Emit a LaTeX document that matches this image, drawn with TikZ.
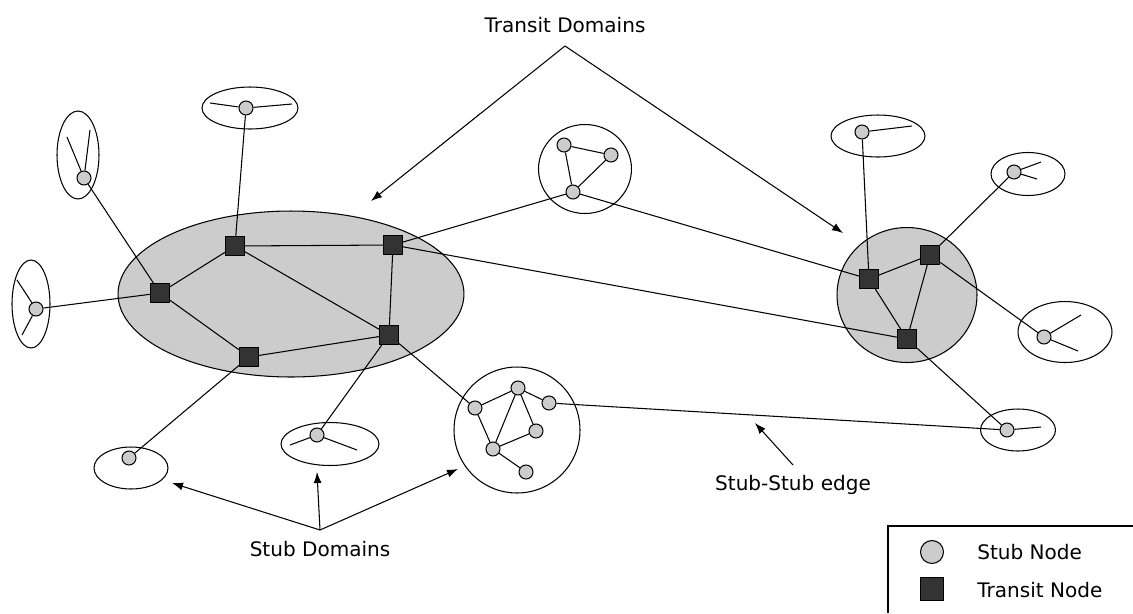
\documentclass[tikz,border=0pt]{standalone}
\usepackage{fontspec}
\setmainfont{DejaVu Sans}
\usetikzlibrary{arrows.meta,shapes.geometric}
\definecolor{stubgray}{HTML}{CCCCCC}
\definecolor{transitgray}{HTML}{333333}
\pgfdeclarelayer{back}
\pgfdeclarelayer{edges}
\pgfsetlayers{back,edges,main}
\begin{document}
\begin{tikzpicture}[x=0.02cm,y=-0.02cm,
  stub/.style={circle,draw,fill=stubgray,minimum size=0.28cm,inner sep=0pt,line width=0.6pt},
  transit/.style={rectangle,draw,fill=transitgray,minimum size=0.38cm,inner sep=0pt,line width=0.6pt},
  link/.style={line width=0.6pt},
  stubdom/.style={ellipse,draw,inner sep=0pt,line width=0.6pt},
  transdom/.style={ellipse,draw,fill=stubgray,inner sep=0pt,line width=0.6pt},
  tag/.style={font=\fontsize{11.4}{13.5}\selectfont,inner sep=0pt},
  pointer/.style={line width=0.6pt,-{Latex[length=0.22cm,width=0.16cm]}}
]
\useasboundingbox (0,0) rectangle (1133,613);

% transit domains
\begin{pgfonlayer}{back}
  \node[transdom,minimum width=6.92cm,minimum height=3.32cm] (TDL) at (291,294) {};
  \node[transdom,minimum width=2.80cm,minimum height=2.70cm] (TDR) at (907,295) {};
\end{pgfonlayer}

% stub domains
\node[stubdom,minimum width=0.84cm,minimum height=1.76cm] (DA) at (78,155) {};
\node[stubdom,minimum width=0.76cm,minimum height=1.76cm] (DB) at (31,304) {};
\node[stubdom,minimum width=1.92cm,minimum height=0.84cm] (DC) at (250,108) {};
\node[stubdom,minimum width=1.48cm,minimum height=0.84cm] (DD) at (131,468) {};
\node[stubdom,minimum width=1.96cm,minimum height=0.86cm] (DE) at (330,444) {};
\node[stubdom,minimum width=1.86cm,minimum height=1.78cm] (DT) at (585,169) {};
\node[stubdom,minimum width=2.52cm,minimum height=2.52cm] (DN) at (517,430) {};
\node[stubdom,minimum width=1.88cm,minimum height=0.84cm] (DF) at (878,136) {};
\node[stubdom,minimum width=1.48cm,minimum height=0.86cm] (DG) at (1028,174) {};
\node[stubdom,minimum width=1.88cm,minimum height=1.22cm] (DH) at (1065,332) {};
\node[stubdom,minimum width=1.50cm,minimum height=0.84cm] (DI) at (1018,430) {};

% transit nodes
\node[transit] (T1) at (160,293) {};
\node[transit] (T2) at (235,246) {};
\node[transit] (T3) at (393,245) {};
\node[transit] (T4) at (389,335) {};
\node[transit] (T5) at (249,357) {};
\node[transit] (R1) at (869,279) {};
\node[transit] (R2) at (930,255) {};
\node[transit] (R3) at (907,339) {};

% stub nodes
\node[stub] (sa) at (84,178) {};
\node[stub] (sb) at (36,309) {};
\node[stub] (sc) at (246,108) {};
\node[stub] (sd) at (129,458) {};
\node[stub] (se) at (317,435) {};
\node[stub] (p1) at (564,145) {};
\node[stub] (p2) at (611,155) {};
\node[stub] (p3) at (573,192) {};
\node[stub] (n1) at (475,408) {};
\node[stub] (n2) at (518,388) {};
\node[stub] (n3) at (549,403) {};
\node[stub] (n4) at (536,431) {};
\node[stub] (n5) at (493,449) {};
\node[stub] (n6) at (526,472) {};
\node[stub] (sf) at (862,132) {};
\node[stub] (sg) at (1014,172) {};
\node[stub] (sh) at (1044,337) {};
\node[stub] (si) at (1007,430) {};

% loose ends of stub links
\coordinate (a1) at (67,137);   \coordinate (a2) at (90,130);
\coordinate (b1) at (17,280);   \coordinate (b2) at (22,335);
\coordinate (c1) at (210,103);  \coordinate (c2) at (292,104);
\coordinate (e1) at (290,445);  \coordinate (e2) at (357,450);
\coordinate (f1) at (912,126);
\coordinate (g1) at (1041,162); \coordinate (g2) at (1037,179);
\coordinate (h1) at (1081,315); \coordinate (h2) at (1078,351);
\coordinate (i1) at (1041,427);

\begin{pgfonlayer}{edges}
  % transit-transit
  \draw[link] (T1) -- (T2);
  \draw[link] (T2) -- (T3);
  \draw[link] (T2) -- (T4);
  \draw[link] (T3) -- (T4);
  \draw[link] (T1) -- (T5);
  \draw[link] (T5) -- (T4);
  \draw[link] (T3) -- (R3);
  \draw[link] (R1) -- (R2);
  \draw[link] (R1) -- (R3);
  \draw[link] (R2) -- (R3);
  % transit-stub
  \draw[link] (T1) -- (sa);
  \draw[link] (T1) -- (sb);
  \draw[link] (T2) -- (sc);
  \draw[link] (T5) -- (sd);
  \draw[link] (T4) -- (se);
  \draw[link] (T4) -- (n1);
  \draw[link] (T3) -- (p3);
  \draw[link] (R1) -- (p3);
  \draw[link] (R1) -- (sf);
  \draw[link] (R2) -- (sg);
  \draw[link] (R2) -- (sh);
  \draw[link] (R3) -- (si);
  % stub-stub
  \draw[link] (si) -- (n3);
  \draw[link] (p1) -- (p2);
  \draw[link] (p1) -- (p3);
  \draw[link] (p2) -- (p3);
  \draw[link] (n1) -- (n2);
  \draw[link] (n2) -- (n3);
  \draw[link] (n1) -- (n5);
  \draw[link] (n2) -- (n5);
  \draw[link] (n2) -- (n4);
  \draw[link] (n4) -- (n5);
  \draw[link] (n5) -- (n6);
  % loose ends
  \draw[link] (sa) -- (a1);
  \draw[link] (sa) -- (a2);
  \draw[link] (sb) -- (b1);
  \draw[link] (sb) -- (b2);
  \draw[link] (sc) -- (c1);
  \draw[link] (sc) -- (c2);
  \draw[link] (se) -- (e1);
  \draw[link] (se) -- (e2);
  \draw[link] (sf) -- (f1);
  \draw[link] (sg) -- (g1);
  \draw[link] (sg) -- (g2);
  \draw[link] (sh) -- (h1);
  \draw[link] (sh) -- (h2);
  \draw[link] (si) -- (i1);
\end{pgfonlayer}

% annotations
\node[tag] (ltd) at (565,25) {Transit Domains};
\coordinate (tdapex) at (565,46);
\coordinate (tdl) at (371,201);
\coordinate (tdr) at (843,233);
\draw[pointer] (tdapex) -- (tdl);
\draw[pointer] (tdapex) -- (tdr);

\node[tag] (lsd) at (320,549) {Stub Domains};
\coordinate (sdapex) at (320,530);
\coordinate (sd1) at (172,483);
\coordinate (sd2) at (317,472);
\coordinate (sd3) at (458,469);
\draw[pointer] (sdapex) -- (sd1);
\draw[pointer] (sdapex) -- (sd2);
\draw[pointer] (sdapex) -- (sd3);

\node[tag] (lss) at (793,485) {Stub-Stub edge};
\coordinate (ssfrom) at (793,465);
\coordinate (ssto) at (755,423);
\draw[pointer] (ssfrom) -- (ssto);

% legend
\coordinate (lgtr) at (1133,526);
\coordinate (lgtl) at (888,526);
\coordinate (lgbl) at (888,613);
\draw[line width=0.6pt] (lgtr) -- (lgtl) -- (lgbl);
\node[stub,minimum size=0.46cm] (lgs) at (932,552) {};
\node[transit,minimum size=0.46cm] (lgt) at (932,589) {};
\node[tag,anchor=west] (lgst) at (977,552) {Stub Node};
\node[tag,anchor=west] (lgtt) at (977,590) {Transit Node};
\end{tikzpicture}
\end{document}
